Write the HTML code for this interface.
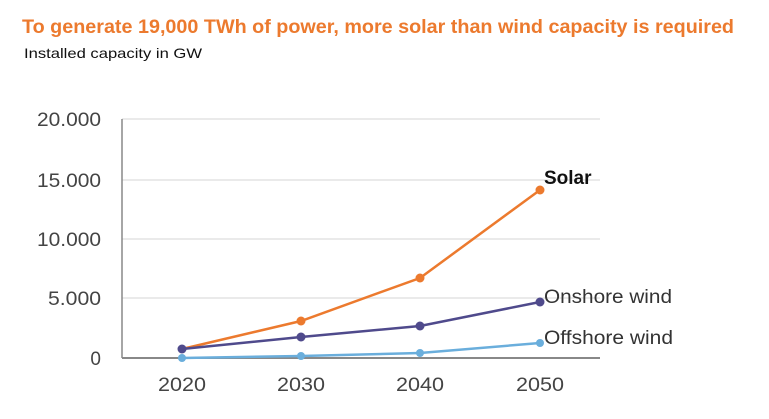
<!DOCTYPE html>
<html><head><style>
body{margin:0;background:#fff;width:769px;height:414px;overflow:hidden;font-family:"Liberation Sans",sans-serif}
</style></head><body>
<svg width="769" height="414" xmlns="http://www.w3.org/2000/svg" font-family="Liberation Sans, sans-serif">
<text x="22" y="33" font-size="19" font-weight="bold" fill="#ec7a2e" textLength="712" lengthAdjust="spacingAndGlyphs">To generate 19,000 TWh of power, more solar than wind capacity is required</text>
<text x="24" y="58" font-size="14" fill="#111" textLength="178" lengthAdjust="spacingAndGlyphs">Installed capacity in GW</text>
<g stroke="#e4e4e4" stroke-width="1.5">
<line x1="122" y1="119" x2="600" y2="119"/><line x1="122" y1="180" x2="600" y2="180"/><line x1="122" y1="239" x2="600" y2="239"/><line x1="122" y1="298" x2="600" y2="298"/>
</g>
<line x1="122" y1="119" x2="122" y2="358" stroke="#888" stroke-width="1.5"/>
<line x1="122" y1="358" x2="600" y2="358" stroke="#888" stroke-width="2"/>
<g font-size="19" fill="#444" text-anchor="end">
<text x="101" y="126" textLength="64" lengthAdjust="spacingAndGlyphs">20.000</text><text x="101" y="187" textLength="64" lengthAdjust="spacingAndGlyphs">15.000</text><text x="101" y="246" textLength="64" lengthAdjust="spacingAndGlyphs">10.000</text><text x="101" y="305" textLength="53" lengthAdjust="spacingAndGlyphs">5.000</text><text x="101" y="365">0</text>
</g>
<g font-size="19" fill="#444" text-anchor="middle">
<text x="182" y="391" textLength="48" lengthAdjust="spacingAndGlyphs">2020</text><text x="301" y="391" textLength="48" lengthAdjust="spacingAndGlyphs">2030</text><text x="420" y="391" textLength="48" lengthAdjust="spacingAndGlyphs">2040</text><text x="540" y="391" textLength="48" lengthAdjust="spacingAndGlyphs">2050</text>
</g>
<polyline points="182,358 301,356 420,353 540,343" fill="none" stroke="#6aaedc" stroke-width="2.5"/>
<g fill="#6aaedc"><circle cx="182" cy="358" r="4"/><circle cx="301" cy="356" r="4"/><circle cx="420" cy="353" r="4"/><circle cx="540" cy="343" r="4"/></g>
<polyline points="182,349 301,321 420,278 540,190" fill="none" stroke="#ec7a2e" stroke-width="2.5"/>
<g fill="#ec7a2e"><circle cx="301" cy="321" r="4.5"/><circle cx="420" cy="278" r="4.5"/><circle cx="540" cy="190" r="4.5"/></g>
<polyline points="182,349 301,337 420,326 540,302" fill="none" stroke="#4f4a8c" stroke-width="2.5"/>
<g fill="#4f4a8c"><circle cx="182" cy="349" r="4.5"/><circle cx="301" cy="337" r="4.5"/><circle cx="420" cy="326" r="4.5"/><circle cx="540" cy="302" r="4.5"/></g>
<text x="544" y="184" font-size="19" font-weight="bold" fill="#111">Solar</text>
<text x="544" y="303" font-size="19" fill="#333" textLength="128" lengthAdjust="spacingAndGlyphs">Onshore wind</text>
<text x="544" y="344" font-size="19" fill="#333" textLength="129" lengthAdjust="spacingAndGlyphs">Offshore wind</text>
</svg>
</body></html>
